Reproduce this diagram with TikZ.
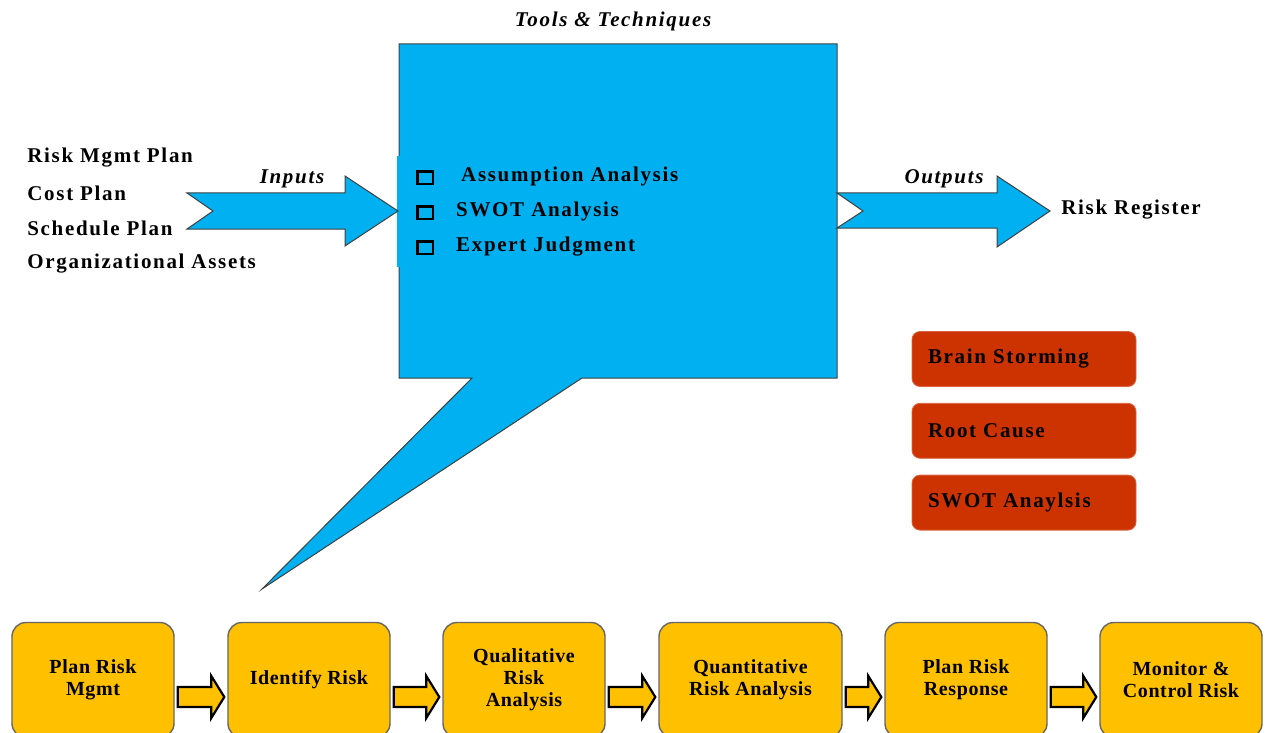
\documentclass[tikz,border=0pt]{standalone}
\usepackage{fontspec}
\setmainfont{Liberation Serif}[LetterSpace=8]
\newfontfamily\stepfont{Liberation Serif}[LetterSpace=3]
\usetikzlibrary{calc}
\usetikzlibrary{positioning}
\definecolor{calloutblue}{HTML}{00B0F0}
\definecolor{brickred}{HTML}{CC3300}
\definecolor{stepyellow}{HTML}{FFC000}
\newcommand{\chkbox}{{\setlength{\fboxrule}{1.2pt}\setlength{\fboxsep}{0pt}\raisebox{-0.4pt}{\fbox{\rule{0pt}{5pt}\hspace{6.5pt}}}}}

\begin{document}
\begin{tikzpicture}[x=0.5pt,y=-0.5pt,node distance=8pt,
		lbl/.style={font=\fontsize{10.5}{12}\selectfont\bfseries,inner sep=0pt,anchor=west},
		tag/.style={font=\fontsize{10.5}{12}\selectfont\bfseries\itshape,inner sep=0pt},
		redbox/.style={rectangle,rounded corners=4pt,fill=brickred,draw=brickred!75!white,line width=0.4pt,
			text width=96pt,inner xsep=8pt,inner ysep=0pt,minimum height=27.5pt,align=left,
			font=\fontsize{10.5}{12}\selectfont\bfseries},
		stepbox/.style={rectangle,rounded corners=7pt,fill=stepyellow,draw=black!60,line width=0.7pt,
			minimum width=81pt,minimum height=57.5pt,inner sep=2pt,align=center,
			font=\stepfont\fontsize{10}{11}\selectfont\bfseries},
		bigarrow/.style={fill=calloutblue,draw=black!75,line width=0.5pt},
		barrow/.style={fill=stepyellow,draw=black,line width=1.1pt,line join=miter}]
		\useasboundingbox (0,0) rectangle (1270,733);
		
		% callout with tools and techniques
		\draw[bigarrow] (399,44) -- (837,44) -- (837,378) -- (582,378) -- (262,589) -- (472,378) -- (399,378) -- cycle;
		\node[fill=calloutblue,inner xsep=9.5pt,inner ysep=0pt,anchor=north west,text width=132pt,
			minimum height=55.5pt,align=left,font=\fontsize{10.5}{17.5}\selectfont\bfseries] (tools) at (397,156)
			{\chkbox\hspace{13.5pt}Assumption Analysis\\ \chkbox\hspace{11pt}SWOT Analysis\\ \chkbox\hspace{11pt}Expert Judgment};
		\node[tag] (tt) at (613,21) {Tools \& Techniques};
		
		% inputs
		\node[lbl] (in1) at (27,158) {Risk Mgmt Plan};
		\node[lbl] (in2) at (27,193) {Cost Plan};
		\node[lbl] (in3) at (27,228) {Schedule Plan};
		\node[lbl] (in4) at (27,264) {Organizational Assets};
		\draw[bigarrow] (187,193) -- (345,193) -- (345,176) -- (398,211) -- (345,246) -- (345,229) -- (187,229) -- (213,211) -- cycle;
		\node[tag] (inputs) at (292,179) {Inputs};
		
		% outputs
		\draw[bigarrow] (837,193) -- (997,193) -- (997,176) -- (1050,211) -- (997,247) -- (997,228) -- (837,228) -- (863,211) -- cycle;
		\node[tag] (outputs) at (944,179) {Outputs};
		\node[lbl] (out) at (1061,210) {Risk Register};
		
		% techniques
		\node[redbox] (brain) at (1024,359) {Brain Storming};
		\node[redbox] (root) [below=of brain] {Root Cause};
		\node[redbox] (swot) [below=of root] {SWOT Anaylsis};
		
		% process steps
		\node[stepbox] (s1) at (93,680) {Plan Risk\\Mgmt};
		\node[stepbox] (s2) [right=26.3pt of s1] {Identify Risk};
		\node[stepbox] (s3) [right=25.8pt of s2] {Qualitative\\Risk\\Analysis};
		\node[stepbox,minimum width=91.5pt] (s4) [right=26.3pt of s3] {Quantitative\\Risk Analysis};
		\node[stepbox] (s5) [right=20.8pt of s4] {Plan Risk\\Response};
		\node[stepbox] (s6) [right=25.8pt of s5] {Monitor \&\\Control Risk};
		
		\foreach \a/\b in {s1/s2,s2/s3,s3/s4,s4/s5,s5/s6}
		\draw[barrow] ($(\a.east)+(3,7)$) -- ($(\b.west)+(-16,7)$) -- ($(\b.west)+(-16,-4)$) -- ($(\b.west)+(-3,17)$)
			-- ($(\b.west)+(-16,38)$) -- ($(\b.west)+(-16,27)$) -- ($(\a.east)+(3,27)$) -- cycle;
\end{tikzpicture}
\end{document}
